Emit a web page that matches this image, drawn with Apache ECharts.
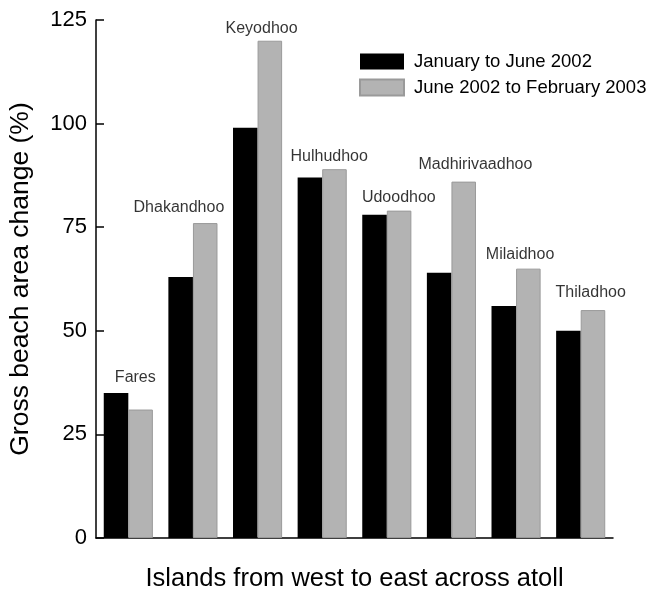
<!DOCTYPE html>
<html>
<head>
<meta charset="utf-8">
<script src="https://cdn.jsdelivr.net/npm/echarts@6/dist/echarts.min.js"></script>
<style>
  html, body { margin: 0; padding: 0; background: #fff; }
  #chart { width: 649px; height: 591px; }
</style>
</head>
<body>
<div id="chart"></div>
<script>
// Islands ordered west to east across the atoll
const islands = ['Fares', 'Dhakandhoo', 'Keyodhoo', 'Hulhudhoo', 'Udoodhoo', 'Madhirivaadhoo', 'Milaidhoo', 'Thiladhoo'];
// Gross beach area change (%) per period
const janToJun2002 = [35, 63, 99, 87, 78, 64, 56, 50];
const jun2002ToFeb2003 = [31, 76, 120, 89, 79, 86, 65, 55];
const yTicks = [0, 25, 50, 75, 100, 125];
const seriesNames = ['January to June 2002', 'June 2002 to February 2003'];

// Island name sits above the taller bar of each pair
const groupTops = islands.map((_, i) => Math.max(janToJun2002[i], jun2002ToFeb2003[i]));
// Small horizontal nudges so names clear neighbouring bars
const nameShift = [7, -14, 4, 7, 12, 24, 4, 10];
const nameLift = [7, 7, 4, 5, 5, 9, 6, 9];

const FONT = 'Liberation Sans, Arial, Helvetica, sans-serif';
const chart = echarts.init(document.getElementById('chart'), null, { renderer: 'canvas' });

chart.setOption({
  animation: false,
  backgroundColor: '#ffffff',
  grid: { left: 96, right: 36, top: 20, bottom: 53, containLabel: false, outerBoundsMode: 'none' },
  legend: {
    orient: 'vertical',
    left: 354,
    top: 47,
    itemWidth: 44,
    itemHeight: 16,
    itemGap: 7,
    icon: 'rect',
    textStyle: { fontFamily: FONT, fontSize: 18.5, color: '#000', padding: [0, 0, 0, 5] },
    data: seriesNames
  },
  xAxis: {
    type: 'category',
    data: islands,
    name: 'Islands from west to east across atoll',
    nameLocation: 'middle',
    nameGap: 28,
    nameTextStyle: { fontFamily: FONT, fontSize: 25.5, color: '#000' },
    axisLine: { lineStyle: { color: '#000', width: 1.5 } },
    axisTick: { show: false },
    axisLabel: { show: false },
    splitLine: { show: false }
  },
  yAxis: {
    type: 'value',
    min: yTicks[0],
    max: yTicks[yTicks.length - 1],
    interval: yTicks[1] - yTicks[0],
    name: 'Gross beach area change (%)',
    nameLocation: 'middle',
    nameRotate: 90,
    nameGap: 62,
    nameTextStyle: { fontFamily: FONT, fontSize: 26.5, color: '#000' },
    axisLine: { show: true, lineStyle: { color: '#000', width: 1.5 } },
    axisTick: { show: true, inside: true, length: 8, lineStyle: { color: '#000', width: 1.5 } },
    axisLabel: { fontFamily: FONT, fontSize: 22, color: '#000', margin: 9 },
    splitLine: { show: false }
  },
  series: [
    {
      name: seriesNames[0],
      type: 'bar',
      data: janToJun2002,
      barGap: '0%',
      barCategoryGap: '24%',
      itemStyle: { color: '#000000', borderColor: '#000000', borderWidth: 0 }
    },
    {
      name: seriesNames[1],
      type: 'bar',
      data: jun2002ToFeb2003,
      barGap: '0%',
      barCategoryGap: '24%',
      itemStyle: { color: '#b3b3b3', borderColor: '#9a9a9a', borderWidth: 1 }
    },
    {
      name: 'islandNames',
      type: 'scatter',
      data: groupTops.map((v, i) => ({
        value: v,
        label: { offset: [nameShift[i], 0], distance: nameLift[i] }
      })),
      symbolSize: 0,
      silent: true,
      z: 5,
      label: {
        show: true,
        position: 'top',
        fontFamily: FONT,
        fontSize: 16,
        color: '#000',
        formatter: p => islands[p.dataIndex]
      }
    }
  ]
});
</script>
</body>
</html>
